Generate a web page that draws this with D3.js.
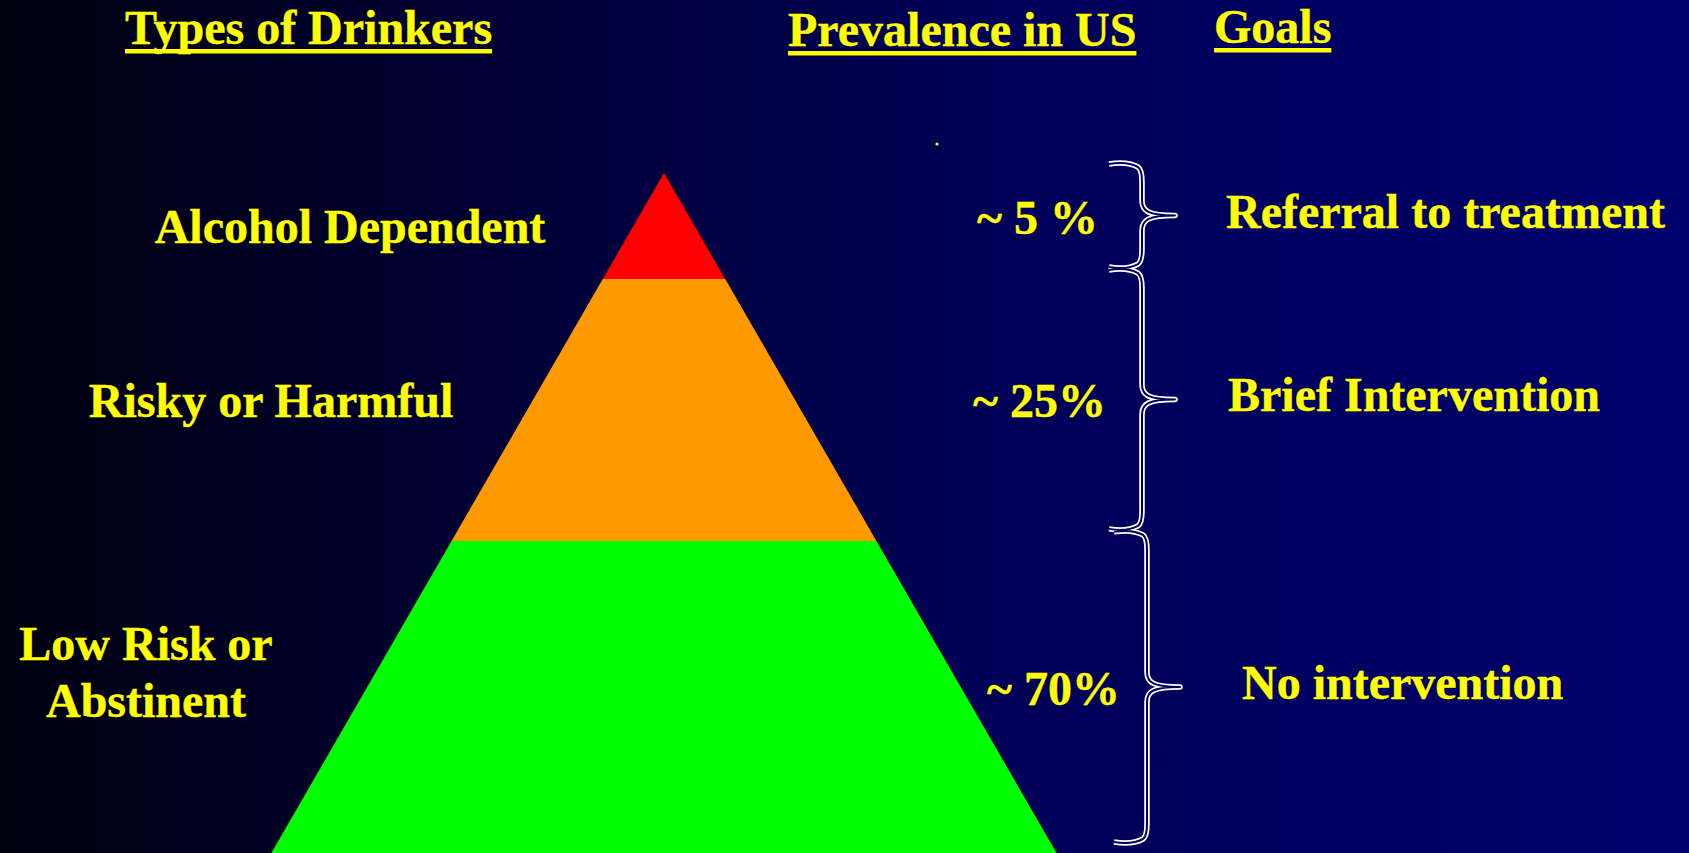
<!DOCTYPE html>
<html>
<head>
<meta charset="utf-8">
<script src="https://cdn.jsdelivr.net/npm/d3@7"></script>
<style>
  html, body { margin: 0; padding: 0; background: #000030; overflow: hidden; }
  text { font-family: "Liberation Serif", "Times New Roman", serif; font-weight: bold; fill: #ffff00; stroke: #ffff00; stroke-width: 0.4; }
</style>
</head>
<body>
<div id="chart"></div>
<script>
const headers = ["Types of Drinkers", "Prevalence in US", "Goals"];
const tiers = [["Alcohol Dependent"], ["Risky or Harmful"], ["Low Risk or", "Abstinent"]];
const prevalence = ["~ 5 %", "~ 25%", "~ 70%"];
const goals = ["Referral to treatment", "Brief Intervention", "No intervention"];
// share of the pyramid height where each tier starts/ends (apex = 0, base = 1)
const tierEdges = [0, 0.156, 0.541, 1];
const tierColors = ["#ff0000", "#ff9900", "#00ff00"];

const width = 1689, height = 853;
const apexX = 664;
const slope = Math.tan(Math.PI / 6);

const svg = d3.select("#chart").append("svg")
    .attr("width", width)
    .attr("height", height)
    .attr("viewBox", [0, 0, width, height]);

const defs = svg.append("defs");
const grad = defs.append("linearGradient")
    .attr("id", "bg")
    .attr("gradientUnits", "userSpaceOnUse")
    .attr("x1", 0).attr("y1", 0).attr("x2", width).attr("y2", 0);
grad.selectAll("stop")
  .data([[0, "#00000e"], [0.3, "#000036"], [0.6, "#000058"], [1, "#00006c"]])
  .join("stop")
    .attr("offset", d => d[0])
    .attr("stop-color", d => d[1]);

svg.append("rect")
    .attr("width", width)
    .attr("height", height)
    .attr("fill", "url(#bg)");

// pyramid scale: fraction of height -> pixel y
const y = d3.scaleLinear().domain([0, 1]).range([173, 853]);
const half = v => (y(v) - y(0)) * slope;

svg.append("g")
  .selectAll("path")
  .data(d3.range(tiers.length))
  .join("path")
    .attr("fill", i => tierColors[i])
    .attr("d", i => {
      const a = tierEdges[i], b = tierEdges[i + 1];
      return d3.line()([
        [apexX - half(a), y(a)], [apexX + half(a), y(a)],
        [apexX + half(b), y(b)], [apexX - half(b), y(b)]
      ]) + "Z";
    });

// headers with underline
const headX = [125, 788, 1214];
const headY = [44, 46, 43];
const head = svg.append("g")
  .selectAll("g")
  .data(headers)
  .join("g");
head.append("text")
    .attr("x", (d, i) => headX[i])
    .attr("y", (d, i) => headY[i])
    .attr("font-size", 48)
    .text(d => d);
head.each(function(d, i) {
  const bb = d3.select(this).select("text").node().getBBox();
  d3.select(this).append("rect")
      .attr("x", bb.x)
      .attr("y", headY[i] + 5)
      .attr("width", bb.width)
      .attr("height", 4.5)
      .attr("fill", "#ffff00");
});

// tier labels
const tierX = [350, 271, 146];
const tierY = [243, 417, 660];
svg.append("g")
    .attr("text-anchor", "middle")
  .selectAll("text")
  .data(tiers)
  .join("text")
    .attr("font-size", 48)
    .attr("x", (d, i) => tierX[i])
    .attr("y", (d, i) => tierY[i])
  .selectAll("tspan")
  .data(d => d)
  .join("tspan")
    .attr("x", function() { return this.parentNode.getAttribute("x"); })
    .attr("dy", (d, j) => j ? 57 : 0)
    .text(d => d);

// braces
const braceX = [1109, 1109, 1114];
const braceW = 66;
const braceR = 15;
function bracePath(x, y0, y1) {
  const xs = x + braceW / 2, ym = (y0 + y1) / 2, r = braceR;
  return `M${x},${y0 + 1}Q${xs - r},${y0 - 2} ${xs - 4},${y0 + 4}Q${xs},${y0 + 7} ${xs},${y0 + r + 4}` +
    `L${xs},${ym - r}C${xs},${ym - r * 0.3} ${xs + 6},${ym} ${x + braceW},${ym}` +
    `C${xs + 6},${ym} ${xs},${ym + r * 0.3} ${xs},${ym + r}` +
    `L${xs},${y1 - r - 4}Q${xs},${y1 - 7} ${xs - 4},${y1 - 4}Q${xs - r},${y1 + 2} ${x},${y1 - 1}`;
}
const braceSpan = i => [y(tierEdges[i]) - 10, y(tierEdges[i + 1]) - 10 - (i === 2 ? 0 : 1)];
const braces = svg.append("g").attr("fill", "none").attr("stroke-linejoin", "round");
braces.selectAll("path.outer")
  .data(d3.range(tiers.length))
  .join("path")
    .attr("class", "outer")
    .attr("stroke", "#ffffff")
    .attr("stroke-width", 5.5)
    .attr("d", i => bracePath(braceX[i], ...braceSpan(i)));
braces.selectAll("path.inner")
  .data(d3.range(tiers.length))
  .join("path")
    .attr("class", "inner")
    .attr("stroke", "url(#bg)")
    .attr("stroke-width", 2)
    .attr("d", i => bracePath(braceX[i], ...braceSpan(i)));

const tipY = i => d3.mean(braceSpan(i));

// prevalence labels
const prevX = [977, 973, 987];
svg.append("g")
  .selectAll("text")
  .data(prevalence)
  .join("text")
    .attr("font-size", 48)
    .attr("x", (d, i) => prevX[i])
    .attr("y", (d, i) => tipY(i) + 18)
    .text(d => d);

// goals
const goalX = [1226, 1228, 1242];
svg.append("g")
  .selectAll("text")
  .data(goals)
  .join("text")
    .attr("font-size", 48)
    .attr("x", (d, i) => goalX[i])
    .attr("y", (d, i) => tipY(i) + 12)
    .text(d => d);

// stray dot
svg.append("circle")
    .attr("cx", 937)
    .attr("cy", 144)
    .attr("r", 1.6)
    .attr("fill", "#ffff00");
</script>
</body>
</html>
